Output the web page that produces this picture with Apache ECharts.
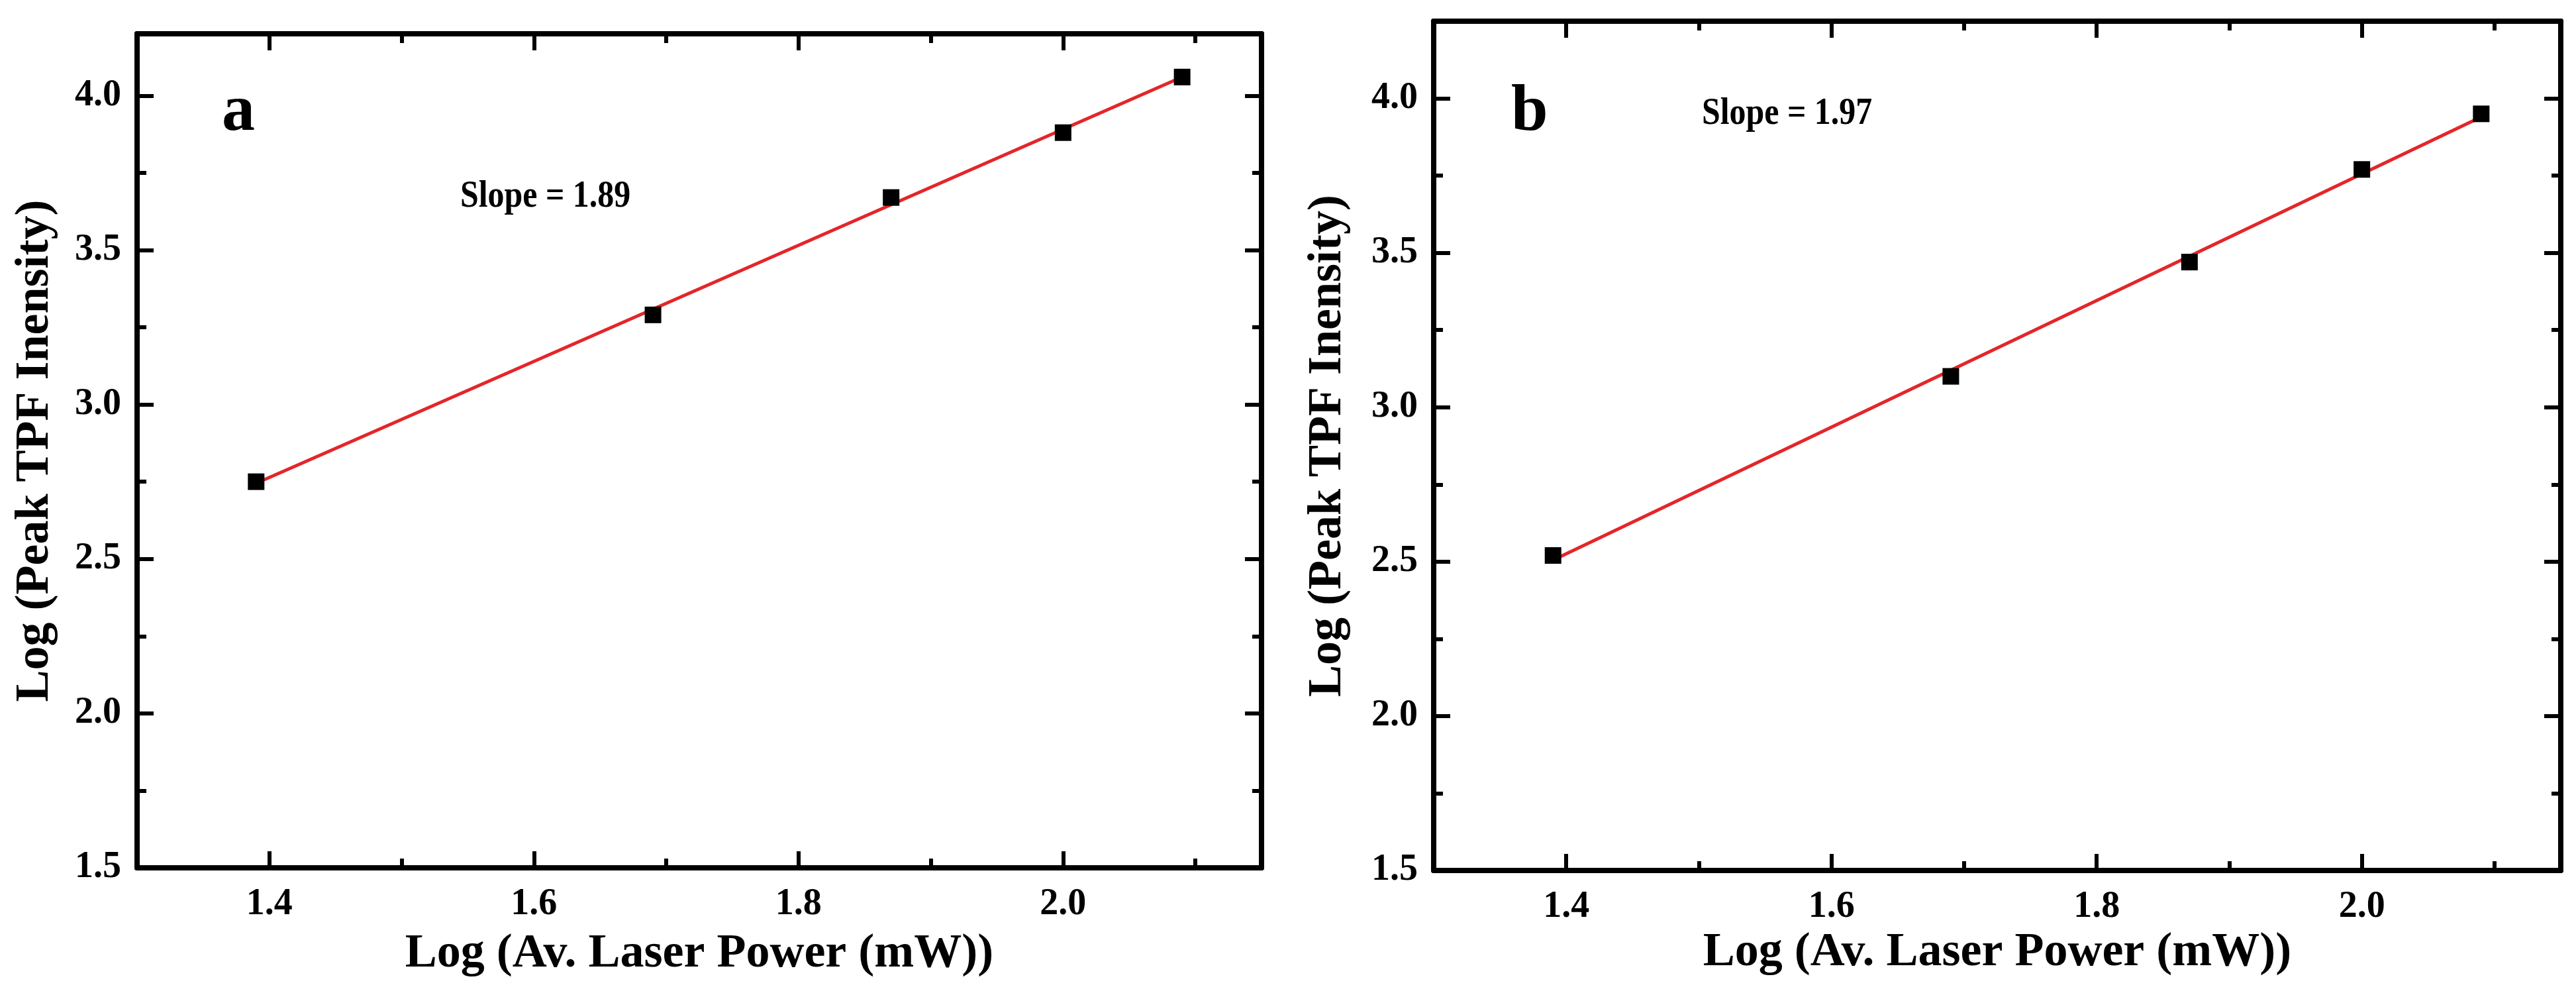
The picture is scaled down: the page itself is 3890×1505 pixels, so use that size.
<!DOCTYPE html>
<html>
<head>
<meta charset="utf-8">
<title>TPF intensity vs laser power</title>
<script src="https://cdn.jsdelivr.net/npm/echarts@6/dist/echarts.min.js"></script>
<style>
  html, body { margin: 0; padding: 0; background: #fff; }
  #main { width: 3890px; height: 1505px; }
</style>
</head>
<body>
<div id="main"></div>
<script>
// data
var powerLog = [1.39, 1.69, 1.87, 2.00, 2.09];
var intensityA = [2.75, 3.29, 3.67, 3.88, 4.06];
var intensityB = [2.52, 3.10, 3.47, 3.77, 3.95];
// linear fit end points (red lines)
var fitX = [1.39, 2.09];
var fitA = [2.745, 4.06];
var fitB = [2.505, 3.94];
// ticks
var xTicks = [1.4, 1.6, 1.8, 2.0];
var xMinorTicks = [1.5, 1.7, 1.9, 2.1];
var yTicks = [1.5, 2.0, 2.5, 3.0, 3.5, 4.0];
var yMinorTicks = [1.75, 2.25, 2.75, 3.25, 3.75];

var FONT = "'Liberation Serif', 'Times New Roman', serif";
var xTitle = 'Log (Av. Laser Power (mW))';
var yTitle = 'Log (Peak TPF Inensity)';

var chart = echarts.init(document.getElementById('main'));

function pairs(xs, ys) {
  return xs.map(function (x, i) { return [x, ys[i]]; });
}

function xAxisOf(grid, pos, minor, p) {
  var ax = {
    type: 'value', gridIndex: grid, position: pos,
    min: 1.3, max: 2.15,
    splitLine: { show: false },
    axisLine: { show: !minor, onZero: false, lineStyle: { color: '#000', width: 8 } },
    axisTick: {
      show: true, inside: true, length: minor ? 14 : 25,
      customValues: minor ? xMinorTicks : xTicks,
      lineStyle: { color: '#000', width: 6 }
    },
    axisLabel: { show: false }
  };
  if (!minor && pos === 'bottom') {
    ax.axisLabel = {
      show: true, customValues: xTicks, margin: 28,
      color: '#000', fontFamily: FONT, fontWeight: 'bold', fontSize: 56,
      formatter: function (v) { return v.toFixed(1); }
    };
    ax.name = xTitle;
    ax.nameLocation = 'middle';
    ax.nameGap = p.xGap;
    ax.nameTextStyle = { color: '#000', fontFamily: FONT, fontWeight: 'bold', fontSize: 72 };
  }
  return ax;
}

function yAxisOf(grid, pos, minor, p) {
  var ax = {
    type: 'value', gridIndex: grid, position: pos,
    min: 1.5, max: p.yMax,
    splitLine: { show: false },
    axisLine: { show: !minor, onZero: false, lineStyle: { color: '#000', width: 8 } },
    axisTick: {
      show: true, inside: true, length: minor ? 14 : 25,
      customValues: minor ? yMinorTicks : yTicks,
      lineStyle: { color: '#000', width: 6 }
    },
    axisLabel: { show: false }
  };
  if (!minor && pos === 'left') {
    ax.axisLabel = {
      show: true, customValues: yTicks, margin: 24,
      color: '#000', fontFamily: FONT, fontWeight: 'bold', fontSize: 56,
      formatter: function (v) { return v.toFixed(1); }
    };
    ax.name = yTitle;
    ax.nameLocation = 'middle';
    ax.nameGap = p.yGap;
    ax.nameTextStyle = { color: '#000', fontFamily: FONT, fontWeight: 'bold', fontSize: 72 };
  }
  return ax;
}

var panels = [
  { left: 207, top: 51, width: 1698, height: 1259, yMax: 4.2, xGap: 94, yGap: 118,
    values: intensityA, fit: fitA, letter: 'a', letterX: 335, slope: 'Slope = 1.89', slopeX: 695, slopeY: 322 },
  { left: 2165, top: 32, width: 1702, height: 1282, yMax: 4.25, xGap: 85, yGap: 124,
    values: intensityB, fit: fitB, letter: 'b', letterX: 2282, slope: 'Slope = 1.97', slopeX: 2570, slopeY: 197 }
];

var grids = [], xAxes = [], yAxes = [], series = [], graphics = [];

panels.forEach(function (p, k) {
  var g = k * 2; // major grid, minor grid = g + 1
  [g, g + 1].forEach(function () {
    grids.push({ left: p.left, top: p.top, width: p.width, height: p.height, containLabel: false });
  });
  var xb = xAxes.length;
  xAxes.push(xAxisOf(g, 'bottom', false, p));
  xAxes.push(xAxisOf(g, 'top', false, p));
  xAxes.push(xAxisOf(g + 1, 'bottom', true, p));
  xAxes.push(xAxisOf(g + 1, 'top', true, p));
  var yb = yAxes.length;
  yAxes.push(yAxisOf(g, 'left', false, p));
  yAxes.push(yAxisOf(g, 'right', false, p));
  yAxes.push(yAxisOf(g + 1, 'left', true, p));
  yAxes.push(yAxisOf(g + 1, 'right', true, p));

  series.push({
    type: 'line', xAxisIndex: xb, yAxisIndex: yb,
    data: pairs(fitX, p.fit), showSymbol: false, silent: true,
    lineStyle: { color: '#e3262a', width: 5 }, z: 2
  });
  series.push({
    type: 'scatter', xAxisIndex: xb, yAxisIndex: yb,
    data: pairs(powerLog, p.values),
    symbol: 'rect', symbolSize: 25,
    itemStyle: { color: '#000', opacity: 1 }, z: 3
  });

  graphics.push({
    type: 'text', left: p.letterX, top: 120,
    style: { text: p.letter, fill: '#000', font: 'bold 100px ' + FONT }
  });
  // the slope note is set in a narrow face in the original, so squeeze it a bit
  graphics.push({
    type: 'text', x: p.slopeX, y: p.slopeY - 54, scaleX: 0.86,
    style: { text: p.slope, fill: '#000', font: 'bold 58px ' + FONT }
  });
});

var option = {
  backgroundColor: '#fff',
  animation: false,
  grid: grids,
  xAxis: xAxes,
  yAxis: yAxes,
  series: series,
  graphic: graphics
};
chart.setOption(option);
</script>
</body>
</html>
